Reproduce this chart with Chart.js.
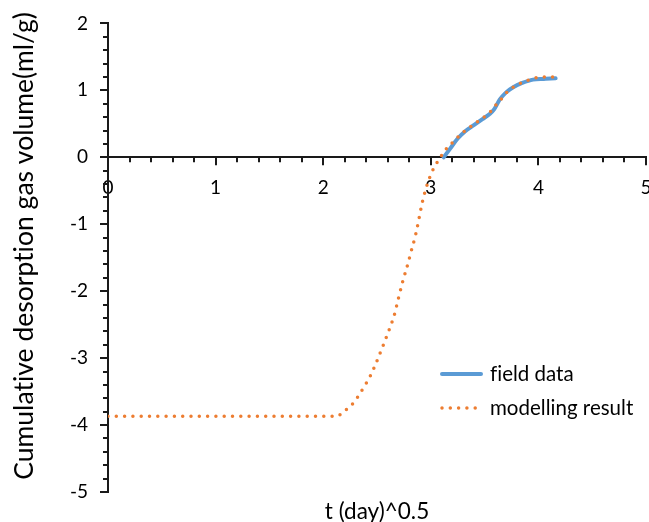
<!DOCTYPE html>
<html lang="en">
<head>
  <meta charset="UTF-8">
  <title>Desorption gas volume</title>
  <style>
    html, body { margin: 0; padding: 0; background: #fff; }
    #wrap { width: 649px; height: 522px; }
  </style>
  <script src="https://cdn.jsdelivr.net/npm/chart.js@4/dist/chart.umd.js"></script>
</head>
<body>
  <div id="wrap"><canvas id="gasChart" width="649" height="522"></canvas></div>
  <script>
    // field data, x = t(day)^0.5
    const fieldX = [3.12, 3.18, 3.25, 3.32, 3.40, 3.48, 3.55, 3.59, 3.64, 3.70, 3.77, 3.85, 3.95, 4.05, 4.16];
    const fieldY = [0, 0.13, 0.28, 0.39, 0.48, 0.57, 0.65, 0.72, 0.86, 0.97, 1.05, 1.11, 1.16, 1.17, 1.18];

    // modelling result
    const modelX = [0, 2.12, 2.16, 2.22, 2.28, 2.36, 2.44, 2.50, 2.56, 2.61, 2.66, 2.70, 2.74, 2.78, 2.82, 2.86,
                    2.89, 2.92, 2.96, 3.01, 3.05, 3.09, 3.13, 3.17, 3.22, 3.29, 3.34, 3.39, 3.44, 3.51, 3.56,
                    3.61, 3.66, 3.70, 3.76, 3.81, 3.86, 3.92, 3.99, 4.07, 4.15];
    const modelY = [-3.87, -3.87, -3.84, -3.76, -3.67, -3.48, -3.26, -3.04, -2.80, -2.59, -2.36, -2.10, -1.85, -1.63, -1.39, -1.15,
                    -0.92, -0.68, -0.44, -0.22, -0.10, 0, 0.10, 0.17, 0.25, 0.36, 0.42, 0.48, 0.54, 0.62, 0.69,
                    0.79, 0.88, 0.96, 1.04, 1.09, 1.12, 1.16, 1.19, 1.20, 1.20];

    const seriesNames = ['field data', 'modelling result'];
    const xTitle = 't (day)^0.5';
    const yTitle = 'Cumulative desorption gas volume(ml/g)';

    const FONT = 'Lato, "Noto Sans", sans-serif';
    const BLUE = '#5B9BD5', ORANGE = '#ED7D31', AXIS = '#1a1a1a';
    const DOTS = [0, 8.3];

    // axis tick marks (major + minor), axis titles and legend
    const extras = {
      id: 'extras',
      afterDraw(chart) {
        const { ctx, scales: { x, y }, chartArea } = chart;
        const y0 = y.getPixelForValue(0), x0 = x.getPixelForValue(0);
        ctx.save();
        ctx.strokeStyle = AXIS; ctx.lineWidth = 2;
        for (let i = 0; i <= 25; i++) {
          const px = Math.round(x.getPixelForValue(i / 5));
          const len = i % 5 === 0 ? 8 : 5;
          ctx.beginPath(); ctx.moveTo(px, y0); ctx.lineTo(px, y0 + len); ctx.stroke();
        }
        for (let i = -25; i <= 10; i++) {
          const py = Math.round(y.getPixelForValue(i / 5));
          const len = i % 5 === 0 ? 8 : 5;
          ctx.beginPath(); ctx.moveTo(x0 - len, py); ctx.lineTo(x0, py); ctx.stroke();
        }
        ctx.fillStyle = '#000';
        ctx.letterSpacing = '0.01px';
        ctx.textAlign = 'center'; ctx.textBaseline = 'middle';
        ctx.font = '22.5px ' + FONT;
        ctx.fillText(xTitle, (chartArea.left + chartArea.right) / 2, 512);

        ctx.save();
        ctx.translate(24, 246);
        ctx.rotate(-Math.PI / 2);
        ctx.font = '26.5px ' + FONT;
        ctx.fillText(yTitle, 0, 0);
        ctx.restore();

        // legend
        ctx.font = '20.5px ' + FONT;
        ctx.textAlign = 'left';
        ctx.lineCap = 'round';
        ctx.strokeStyle = BLUE; ctx.lineWidth = 4;
        ctx.beginPath(); ctx.moveTo(442, 374); ctx.lineTo(481, 374); ctx.stroke();
        ctx.fillText(seriesNames[0], 490, 374);
        ctx.strokeStyle = ORANGE; ctx.lineWidth = 3.5; ctx.setLineDash(DOTS);
        ctx.beginPath(); ctx.moveTo(442, 408); ctx.lineTo(477, 408); ctx.stroke();
        ctx.setLineDash([]);
        ctx.fillText(seriesNames[1], 490, 408);
        ctx.restore();
      }
    };

    new Chart(document.getElementById('gasChart'), {
      type: 'scatter',
      data: {
        datasets: [
          { label: seriesNames[0], data: fieldX.map((v, i) => ({ x: v, y: fieldY[i] })),
            showLine: true, borderColor: BLUE, borderWidth: 4, pointRadius: 0,
            cubicInterpolationMode: 'monotone', borderCapStyle: 'round', order: 2 },
          { label: seriesNames[1], data: modelX.map((v, i) => ({ x: v, y: modelY[i] })),
            showLine: true, borderColor: ORANGE, borderWidth: 3.5, pointRadius: 0,
            borderDash: DOTS, borderCapStyle: 'round',
            cubicInterpolationMode: 'monotone', order: 1 }
        ]
      },
      options: {
        responsive: false,
        animation: false,
        layout: { padding: { top: 20, right: 3, bottom: 30, left: 0 } },
        plugins: { legend: { display: false }, tooltip: { enabled: false } },
        scales: {
          x: {
            type: 'linear', min: 0, max: 5,
            position: { y: 0 },
            grid: { display: false },
            border: { display: true, color: AXIS, width: 2 },
            ticks: { stepSize: 1, padding: 11, color: '#000', font: { family: FONT, size: 19 } },
            afterFit(s) { s.paddingLeft = 0; s.paddingRight = 0; }
          },
          y: {
            min: -5, max: 2,
            grid: { display: false },
            border: { display: true, color: AXIS, width: 2 },
            ticks: { stepSize: 1, padding: 12, color: '#000', font: { family: FONT, size: 19 } },
            afterFit(s) { s.width = 108; }
          }
        }
      },
      plugins: [extras]
    });
  </script>
</body>
</html>
